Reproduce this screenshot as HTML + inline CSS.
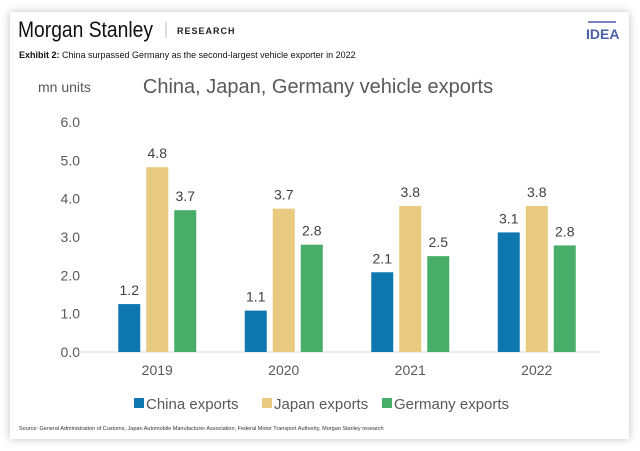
<!DOCTYPE html>
<html><head><meta charset="utf-8"><style>
body{margin:0;width:640px;height:451px;background:#fff;overflow:hidden;font-family:"Liberation Sans",sans-serif}
#card{position:absolute;left:10px;top:12px;width:619px;height:427px;background:#fff;box-shadow:0 0 8px rgba(0,0,0,0.25)}
</style></head><body>
<div id="card"></div>
<svg width="640" height="451" style="position:absolute;left:0;top:0">
<text x="18" y="37" font-size="22" fill="#111" textLength="135" lengthAdjust="spacingAndGlyphs">Morgan Stanley</text>
<line x1="166" y1="22" x2="166" y2="38" stroke="#bbb"/>
<text x="177" y="34" font-size="9" font-weight="bold" fill="#222" letter-spacing="1">RESEARCH</text>
<line x1="588" y1="22" x2="616" y2="22" stroke="#4a5fa8" stroke-width="1.5"/>
<text x="586" y="39" font-size="14" font-weight="bold" fill="#4a5fa8">IDEA</text>
<text x="19" y="58" font-size="9" fill="#111"><tspan font-weight="bold">Exhibit 2:</tspan> China surpassed Germany as the second-largest vehicle exporter in 2022</text>
<text x="38" y="92" font-size="14" fill="#595959">mn units</text>
<text x="318" y="93" font-size="20" fill="#595959" text-anchor="middle">China, Japan, Germany vehicle exports</text>
<g id="plot"></g>
<g id="legend"></g>
<text x="19" y="430" font-size="5.5" fill="#333">Source: General Administration of Customs, Japan Automobile Manufacturer Association, Federal Motor Transport Authority, Morgan Stanley research</text>
</svg>
<script>
const categories=["2019","2020","2021","2022"];
const china=[1.25,1.08,2.08,3.12];
const japan=[4.82,3.74,3.81,3.81];
const germany=[3.7,2.8,2.5,2.78];
const chinaLabels=["1.2","1.1","2.1","3.1"];
const japanLabels=["4.8","3.7","3.8","3.8"];
const germanyLabels=["3.7","2.8","2.5","2.8"];
const yTicks=[0,1,2,3,4,5,6];
const seriesNames=["China exports","Japan exports","Germany exports"];
const colors=["#0f77b0","#e8cb80","#48ad68"];
const NS="http://www.w3.org/2000/svg";
const x0=94,x1=600,y0=352,yTop=122;
const y=v=>y0-(v/6)*(y0-yTop);
const gw=(x1-x0)/categories.length;
const xc=i=>x0+gw*(i+0.5);
const g=document.getElementById('plot');
function mk(t,a,p){const e=document.createElementNS(NS,t);for(const k in a)e.setAttribute(k,a[k]);(p||g).appendChild(e);return e;}
yTicks.forEach(t=>{const e=mk('text',{x:80,y:y(t)+5,'font-size':14,fill:'#595959','text-anchor':'end'});e.textContent=t.toFixed(1);

});
const base=mk('line',{x1:x0-17,x2:x1,y1:y0,y2:y0,stroke:'#d9d9d9','stroke-width':1});


const series=[china,japan,germany],labs=[chinaLabels,japanLabels,germanyLabels];
const bw=22,pitch=28;
categories.forEach((c,i)=>{
 series.forEach((s,j)=>{
  const bx=xc(i)+(j-1)*pitch-bw/2;
  const r=mk('rect',{x:bx,y:y(s[i]),width:bw,height:y0-y(s[i]),fill:colors[j]});
  
  
  const t=mk('text',{x:bx+bw/2,y:y(s[i])-9,'font-size':14,fill:'#404040','text-anchor':'middle'});
  t.textContent=labs[j][i];
  
  
 });
 const t=mk('text',{x:xc(i),y:375,'font-size':14,fill:'#595959','text-anchor':'middle'});
 t.textContent=c;
 
 
});
const lg=document.getElementById('legend');
const lx=[134,262,382];
seriesNames.forEach((n,j)=>{
 const r=mk('rect',{x:lx[j],y:398,width:10,height:10,fill:colors[j]},lg);
 
 
 const t=mk('text',{x:lx[j]+12,y:409,'font-size':15,fill:'#595959'},lg);
 t.textContent=n;
 
 
});
</script>
</body></html>
